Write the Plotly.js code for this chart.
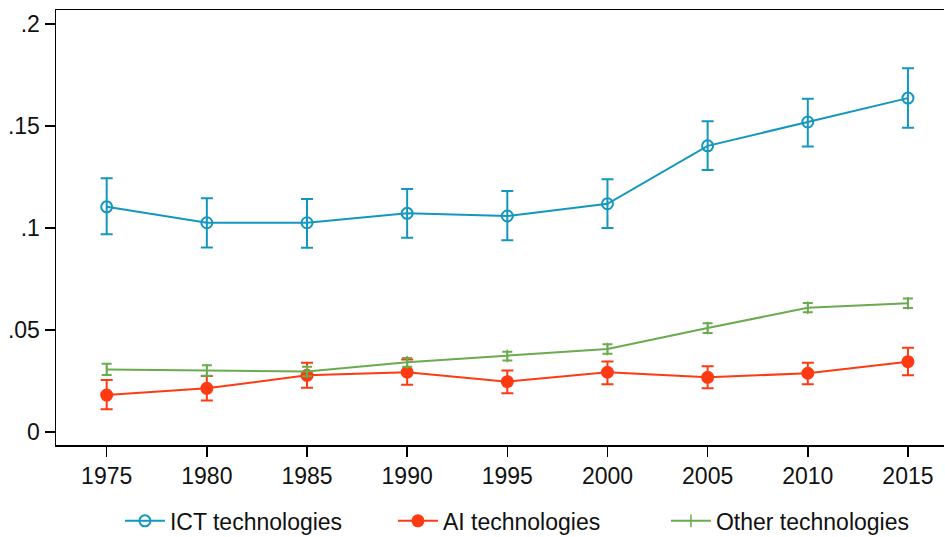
<!DOCTYPE html>
<html>
<head>
<meta charset="utf-8">
<script src="https://cdn.plot.ly/plotly-3.0.1.min.js"></script>
<style>html,body{margin:0;padding:0;background:#fff;}#chart{width:945px;height:537px;}</style>
</head>
<body>
<div id="chart"></div>
<script>
const years = [1975, 1980, 1985, 1990, 1995, 2000, 2005, 2010, 2015];

const ictMean  = [0.1104, 0.1026, 0.1026, 0.1072, 0.1059, 0.1119, 0.1403, 0.1520, 0.1637];
const ictHigh  = [0.1244, 0.1146, 0.1142, 0.1191, 0.1181, 0.1239, 0.1523, 0.1634, 0.1783];
const ictLow   = [0.0969, 0.0905, 0.0903, 0.0953, 0.0940, 0.1000, 0.1284, 0.1400, 0.1492];

const aiMean   = [0.0181, 0.0214, 0.0278, 0.0293, 0.0247, 0.0293, 0.0268, 0.0288, 0.0345];
const aiHigh   = [0.0255, 0.0274, 0.0340, 0.0356, 0.0302, 0.0346, 0.0322, 0.0340, 0.0413];
const aiLow    = [0.0111, 0.0154, 0.0217, 0.0232, 0.0190, 0.0234, 0.0214, 0.0234, 0.0278];

const otMean   = [0.0307, 0.0302, 0.0297, 0.0342, 0.0373, 0.0407, 0.0510, 0.0609, 0.0631];
const otHigh   = [0.0335, 0.0327, 0.0320, 0.0363, 0.0394, 0.0430, 0.0533, 0.0632, 0.0654];
const otLow    = [0.0279, 0.0276, 0.0273, 0.0320, 0.0350, 0.0384, 0.0485, 0.0587, 0.0608];

const yTickVals = [0, 0.05, 0.1, 0.15, 0.2];
const yTickText = ['0', '.05', '.1', '.15', '.2'];
const seriesNames = ['ICT technologies', 'AI technologies', 'Other technologies'];

const cICT = '#1497bf', cAI = '#ff3a12', cOT = '#6aab4f';

function errs(mean, hi, lo) {
  return {
    up: hi.map((h, i) => h - mean[i]),
    down: lo.map((l, i) => mean[i] - l)
  };
}
const eI = errs(ictMean, ictHigh, ictLow);
const eA = errs(aiMean, aiHigh, aiLow);
const eO = errs(otMean, otHigh, otLow);

const traces = [
  {
    x: years, y: ictMean, name: seriesNames[0], type: 'scatter', mode: 'lines+markers',
    line: {color: cICT, width: 2},
    marker: {symbol: 'circle-open', size: 11, color: cICT, line: {color: cICT, width: 2}},
    error_y: {type: 'data', symmetric: false, array: eI.up, arrayminus: eI.down, color: cICT, thickness: 2, width: 6}
  },
  {
    x: years, y: aiMean, name: seriesNames[1], type: 'scatter', mode: 'lines+markers',
    line: {color: cAI, width: 2},
    marker: {symbol: 'circle', size: 13, color: cAI},
    error_y: {type: 'data', symmetric: false, array: eA.up, arrayminus: eA.down, color: cAI, thickness: 2, width: 6}
  },
  {
    x: years, y: otMean, name: seriesNames[2], type: 'scatter', mode: 'lines+markers',
    line: {color: cOT, width: 2},
    marker: {symbol: 'line-ns-open', size: 9, color: cOT, line: {color: cOT, width: 1.5}},
    error_y: {type: 'data', symmetric: false, array: eO.up, arrayminus: eO.down, color: cOT, thickness: 2, width: 5}
  }
];

const layout = {
  width: 945, height: 537,
  margin: {l: 56, r: 1, t: 10, b: 92, autoexpand: false},
  paper_bgcolor: '#fff', plot_bgcolor: '#fff',
  font: {family: 'Liberation Sans, Arial, sans-serif', size: 23, color: '#000'},
  showlegend: true,
  xaxis: {
    range: [1972.47, 2016.8], tickvals: years, ticktext: years.map(String),
    showgrid: false, zeroline: false, showline: true, linecolor: '#000', linewidth: 1.5, mirror: true,
    ticks: 'outside', ticklen: 10, tickwidth: 1.5, tickcolor: '#000',
    tickfont: {size: 23, color: '#111'}
  },
  yaxis: {
    range: [-0.00637, 0.2069], tickvals: yTickVals, ticktext: yTickText,
    showgrid: false, zeroline: false, showline: true, linecolor: '#000', linewidth: 1.5, mirror: false,
    ticks: 'outside', ticklen: 10, tickwidth: 1.5, tickcolor: '#000',
    tickfont: {size: 23, color: '#111'}
  },
  legend: {
    orientation: 'h', x: 0.072, xanchor: 'left', y: -0.125, yanchor: 'top',
    font: {size: 23, color: '#111'}, itemwidth: 40, entrywidth: 218,
    bgcolor: 'rgba(0,0,0,0)'
  }
};

Plotly.newPlot('chart', traces, layout, {displayModeBar: false, staticPlot: true});
</script>
</body>
</html>
